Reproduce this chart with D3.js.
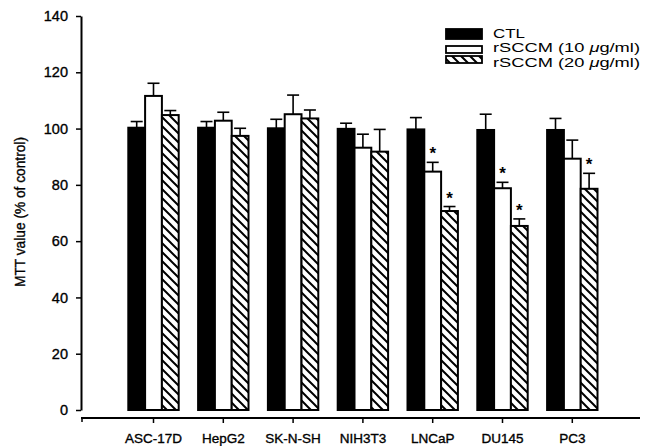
<!DOCTYPE html>
<html><head><meta charset="utf-8">
<script src="https://cdn.jsdelivr.net/npm/d3@7"></script>
<style>body{margin:0;background:#fff}svg{display:block}text{font-family:"Liberation Sans",Arial,sans-serif;fill:#000}</style>
</head><body>
<svg id="c" width="655" height="446"></svg>
<script>
const categories = ["ASC-17D","HepG2","SK-N-SH","NIH3T3","LNCaP","DU145","PC3"];
const seriesNames = ["CTL","rSCCM (10 μg/ml)","rSCCM (20 μg/ml)"];
const ctl    = [100.3,100.3,100.1,99.9,99.7,99.5,99.5];
const ctlErr = [2.2,2.2,3.2,2.0,4.2,5.6,4.1];
const r10    = [111.6,102.8,105.1,93.2,84.7,78.8,89.3];
const r10Err = [4.5,3.0,6.8,4.8,3.3,2.1,6.6];
const r20    = [104.8,97.4,103.6,91.8,70.7,65.4,78.6];
const r20Err = [1.6,2.7,3.0,7.9,1.6,2.5,5.5];
const r10Star = [0,0,0,0,1,1,0];
const r20Star = [0,0,0,0,1,1,1];
const yTicks = [0,20,40,60,80,100,120,140];

const series = [
  {name:seriesNames[0], vals:ctl, errs:ctlErr, stars:null, fill:"#000"},
  {name:seriesNames[1], vals:r10, errs:r10Err, stars:r10Star, fill:"#fff"},
  {name:seriesNames[2], vals:r20, errs:r20Err, stars:r20Star, fill:"url(#hatch)"}
];

const svg = d3.select("#c");
const defs = svg.append("defs");
const pat = defs.append("pattern").attr("id","hatch").attr("patternUnits","userSpaceOnUse")
  .attr("width",9).attr("height",9);
pat.append("rect").attr("width",9).attr("height",9).attr("fill","#fff");
pat.append("path").attr("d","M-2,-2L11,11M-2,7L2,11M7,-2L11,2").attr("stroke","#000").attr("stroke-width",2);

const y = d3.scaleLinear().domain([0,140]).range([410,16]);
const x = d3.scaleBand().domain(categories).range([118.6,607.2]).paddingInner(0).paddingOuter(0);
const groupW = 50.4;
const xs = d3.scaleBand().domain(d3.range(3)).range([0,groupW]);

const heavy = sel => sel.attr("stroke","#000").attr("stroke-width",0.35).style("paint-order","stroke");

// y axis
const ya = svg.append("g").attr("transform","translate(81,0)")
  .call(d3.axisLeft(y).tickValues(yTicks).tickSize(5).tickSizeOuter(0).tickPadding(8));
ya.select(".domain").attr("stroke","#000").attr("stroke-width",2);
ya.selectAll(".tick line").attr("stroke","#000").attr("stroke-width",1.5);
ya.selectAll(".tick text").style("font-size","14.5px").style("font-family","Liberation Sans, Arial").attr("fill","#000").call(heavy);

// x axis
const xa = svg.append("g").attr("transform","translate(0,418)")
  .call(d3.axisBottom(x).tickSize(5).tickSizeOuter(0).tickPadding(10));
xa.select(".domain").remove();
xa.append("line").attr("x1",81).attr("x2",640).attr("y1",0).attr("y2",0).attr("stroke","#000").attr("stroke-width",2);
xa.append("line").attr("x1",82).attr("x2",82).attr("y1",0).attr("y2",4).attr("stroke","#000").attr("stroke-width",1.5);
xa.selectAll(".tick line").attr("stroke","#000").attr("stroke-width",1.5);
xa.selectAll(".tick text").style("font-size","13.5px").style("font-family","Liberation Sans, Arial").attr("fill","#000").call(heavy);

// bars
const plot = svg.append("g");
series.forEach((s,si)=>{
  const g = plot.append("g");
  categories.forEach((c,ci)=>{
    const bx = x(c) + x.bandwidth()/2 - groupW/2 + xs(si);
    const bw = xs.bandwidth();
    const cx = bx + bw/2;
    const top = y(s.vals[ci]);
    const et = y(s.vals[ci] + s.errs[ci]);
    g.append("line").attr("x1",cx).attr("x2",cx).attr("y1",top).attr("y2",et).attr("stroke","#000").attr("stroke-width",1.6);
    g.append("line").attr("x1",cx-6).attr("x2",cx+6).attr("y1",et).attr("y2",et).attr("stroke","#000").attr("stroke-width",1.6);
    g.append("rect").attr("x",bx).attr("y",top).attr("width",bw).attr("height",y(0)-top)
      .attr("fill",s.fill).attr("stroke","#000").attr("stroke-width",2);
    if (s.stars && s.stars[ci]) {
      g.append("text").attr("x",cx).attr("y",et-3).attr("text-anchor","middle")
        .style("font-size","17px").style("font-weight","bold").text("*");
    }
  });
});

// y title
svg.append("text").attr("transform","translate(25,212) rotate(-90)").attr("text-anchor","middle")
  .attr("textLength",150).attr("lengthAdjust","spacingAndGlyphs")
  .style("font-size","15px").text("MTT value (% of control)").call(heavy);

// legend
const lg = svg.append("g");
const lrows = [{y:29,h:10},{y:46,h:7},{y:56,h:7}];
const lwidths = [32,147,147];
series.forEach((s,i)=>{
  lg.append("rect").attr("x",446).attr("y",lrows[i].y).attr("width",36).attr("height",lrows[i].h)
    .attr("fill",s.fill).attr("stroke","#000").attr("stroke-width",1.8);
  const t = lg.append("text").attr("x",493).attr("y",37.5+i*14.7).style("font-size","12.6px")
    .attr("textLength",lwidths[i]).attr("lengthAdjust","spacingAndGlyphs");
  if (i===0) t.text(s.name);
  else {
    const parts = s.name.split("μ");
    t.append("tspan").text(parts[0]);
    t.append("tspan").style("font-style","italic").text("μ");
    t.append("tspan").text(parts[1]);
  }
});
</script>
</body></html>
